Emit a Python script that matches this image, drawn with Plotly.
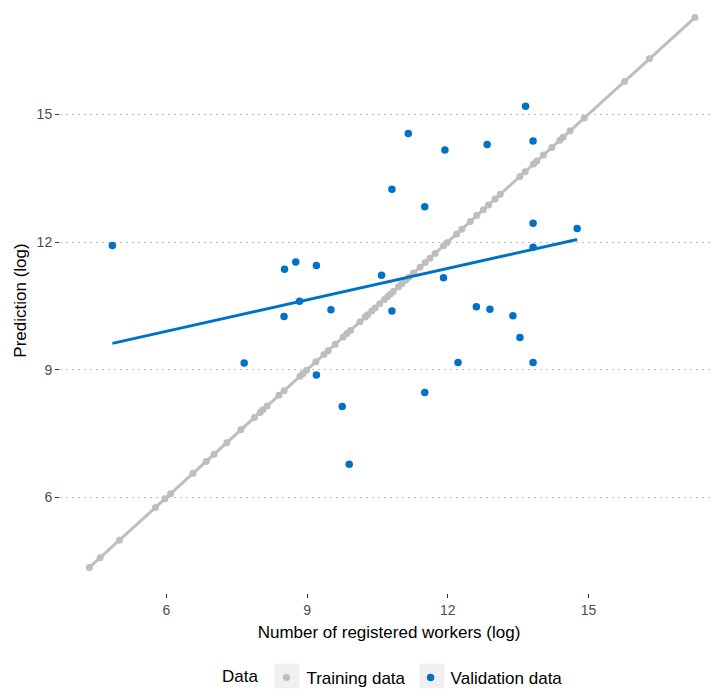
import plotly.graph_objects as go

# ---- data ----
train_actual = [4.36, 4.59, 5.00, 5.77, 5.97, 6.09, 6.57, 6.85, 7.02, 7.29, 7.59, 7.88,
                8.00, 8.06, 8.15, 8.40, 8.51, 8.85, 8.91, 8.99, 9.19, 9.36, 9.45, 9.60,
                9.77, 9.85, 9.93, 10.13, 10.24, 10.29, 10.38, 10.45, 10.55, 10.65, 10.72,
                10.78, 10.84, 10.95, 11.02, 11.10, 11.17, 11.27, 11.41, 11.52, 11.62,
                11.73, 11.91, 11.98, 12.19, 12.30, 12.48, 12.62, 12.76, 12.87, 13.01,
                13.12, 13.54, 13.65, 13.83, 13.90, 14.04, 14.22, 14.39, 14.46, 14.61,
                14.91, 15.77, 16.30, 17.27]
train_pred = list(train_actual)

valid_actual = [4.85, 10.81, 8.52, 8.76, 9.20, 10.59, 8.84, 9.51, 8.51, 10.81, 7.66,
                9.20, 9.75, 9.90, 13.66, 11.16, 11.94, 12.84, 13.82, 11.51, 13.82, 14.76,
                13.82, 11.91, 12.61, 12.90, 13.39, 13.54, 12.22, 13.82, 11.51]
valid_pred = [11.92, 13.24, 11.36, 11.53, 11.45, 11.22, 10.61, 10.41, 10.25, 10.38, 9.16,
              8.88, 8.14, 6.78, 15.19, 14.55, 14.16, 14.29, 14.37, 12.83, 12.44, 12.32,
              11.88, 11.16, 10.48, 10.42, 10.27, 9.76, 9.17, 9.17, 8.47]

fit_x = [4.85, 14.76]
fit_y = [9.62, 12.06]

tick_vals = [6, 9, 12, 15]
tick_text = ["6", "9", "12", "15"]

GRAY = "#bebebe"
BLUE = "#0072c6"
FONT = "Liberation Sans, Arial, sans-serif"

OFF = 8  # page body margin
W, H = 718 - OFF, 696 - OFF
ML, MR, MT, MB = 52, 0, 0, 99
PW = W - ML - MR
PH = H - MT - MB


def px_x(p):
    return (p - OFF - ML) / PW


def px_y(p):
    return (H - MB - (p - OFF)) / PH


fig = go.Figure()

fig.add_trace(go.Scatter(
    x=train_actual, y=train_pred, mode="lines", showlegend=False,
    line=dict(color=GRAY, width=3), hoverinfo="skip",
))
fig.add_trace(go.Scatter(
    x=train_actual, y=train_pred, mode="markers", name="Training data",
    marker=dict(color=GRAY, size=7),
))
fig.add_trace(go.Scatter(
    x=fit_x, y=fit_y, mode="lines", showlegend=False,
    line=dict(color=BLUE, width=3), hoverinfo="skip",
))
fig.add_trace(go.Scatter(
    x=valid_actual, y=valid_pred, mode="markers", name="Validation data",
    marker=dict(color=BLUE, size=7.5),
))

# legend key backgrounds (ggplot style grey squares)
shapes = []
for cx in (287, 432):
    shapes.append(dict(type="rect", xref="paper", yref="paper",
                       x0=px_x(cx - 12.5), x1=px_x(cx + 12.5), y0=px_y(693), y1=px_y(668),
                       fillcolor="#f0f0f0", line=dict(width=0), layer="below"))

fig.update_layout(
    width=W, height=H,
    margin=dict(l=ML, r=MR, t=MT, b=MB, pad=0),
    paper_bgcolor="white", plot_bgcolor="white",
    font=dict(family=FONT, color="#000000", size=17),
    shapes=shapes,
    showlegend=True,
    legend=dict(
        orientation="h", x=px_x(220), y=px_y(683), xanchor="left", yanchor="middle",
        title=dict(text="Data", font=dict(size=17, color="#000000"), side="left"),
        font=dict(size=17, color="#000000"),
        bgcolor="rgba(0,0,0,0)", itemwidth=30, tracegroupgap=0,
    ),
    xaxis=dict(
        range=[3.733, 17.763], tickvals=tick_vals, ticktext=tick_text,
        showgrid=False, zeroline=False, showline=False,
        ticks="outside", ticklen=4, tickcolor="#333333", tickwidth=1,
        tickfont=dict(size=14, color="#4d4d4d"),
        title=dict(text="Number of registered workers (log)", font=dict(size=17), standoff=9),
    ),
    yaxis=dict(
        range=[3.76, 17.494], tickvals=tick_vals, ticktext=tick_text,
        showgrid=True, gridcolor="#bdbdbd", griddash="2px,4px", gridwidth=1.3,
        zeroline=False, showline=False,
        ticks="outside", ticklen=4, tickcolor="#333333", tickwidth=1,
        tickfont=dict(size=14, color="#4d4d4d"),
        title=dict(text="Prediction (log)", font=dict(size=17), standoff=5),
    ),
)

fig.write_html("out.html")
